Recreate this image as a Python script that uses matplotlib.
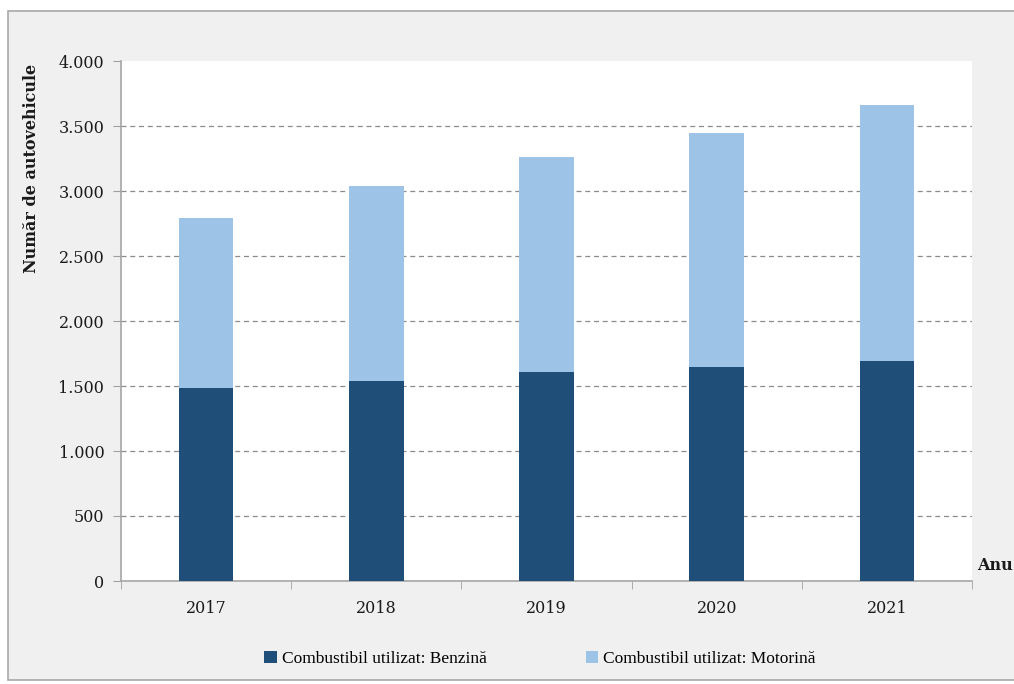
import numpy as np
import matplotlib.pyplot as plt
from matplotlib.patches import Rectangle
from matplotlib.ticker import FuncFormatter, FixedLocator

years = ["2017", "2018", "2019", "2020", "2021"]
benzina = [1482, 1535, 1610, 1648, 1692]
motorina = [1307, 1502, 1653, 1795, 1968]

dark = "#1f4e79"
light = "#9dc3e6"

fig = plt.figure(figsize=(10.14, 6.84), dpi=100)
fig.patch.set_facecolor("white")

# gray chart frame behind everything
fig.patches.append(Rectangle((8 / 1014, 4 / 684), 1.0, 1 - 15 / 684,
                             transform=fig.transFigure, facecolor="#f0f0f0",
                             edgecolor="#a8a8a8", linewidth=1.2, zorder=-10))

ax = fig.add_axes([121 / 1014, 1 - 581 / 684, 851 / 1014, 520 / 684])
ax.set_facecolor("white")

x = np.arange(len(years))
ax.bar(x, benzina, width=0.32, color=dark, label="Combustibil utilizat: Benzină", zorder=3)
ax.bar(x, motorina, width=0.32, bottom=benzina, color=light,
       label="Combustibil utilizat: Motorină", zorder=3)

ax.set_xlim(-0.5, len(years) - 0.5)
ax.set_ylim(0, 4000)
yt = np.arange(0, 4001, 500)
ax.set_yticks(yt)
ax.yaxis.set_major_formatter(FuncFormatter(lambda v, p: f"{int(v):,}".replace(",", ".")))
for v in yt[1:-1]:
    ax.axhline(v, color="#8c8c8c", linestyle=(0, (4, 3)), linewidth=0.9, zorder=1)

ax.set_xticks(x)
ax.set_xticklabels(years)
ax.xaxis.set_minor_locator(FixedLocator(np.arange(-0.5, len(years), 1.0)))
ax.tick_params(axis="x", which="major", length=0, pad=14)
ax.tick_params(axis="x", which="minor", length=6, color="#a0a0a0", direction="out")
ax.tick_params(axis="y", length=6, color="#a0a0a0", direction="out", pad=6)

for lab in ax.get_xticklabels() + ax.get_yticklabels():
    lab.set_fontfamily("DejaVu Serif")
    lab.set_fontsize(11.5)
    lab.set_color("#1a1a1a")

for s in ["top", "right"]:
    ax.spines[s].set_visible(False)
for s in ["left", "bottom"]:
    ax.spines[s].set_color("#a6a6a6")
    ax.spines[s].set_linewidth(1.2)

fig.text(32 / 1014, 1 - 168 / 684, "Număr de autovehicule", rotation=90,
         ha="center", va="center", fontsize=11.5, fontweight="bold",
         family="DejaVu Serif", color="#1a1a1a")
fig.text(977 / 1014, 1 - 566 / 684, "Anu", ha="left", va="center",
         fontsize=11.5, fontweight="bold", family="DejaVu Serif", color="#1a1a1a")

fig.legend(loc="center", bbox_to_anchor=(540 / 1014, 1 - 659 / 684), ncol=2,
           frameon=False, handlelength=0.7, handleheight=0.7, handletextpad=0.3,
           columnspacing=5.7, prop={"family": "Liberation Serif", "size": 12.5})

fig.savefig("out.png", dpi=100)
